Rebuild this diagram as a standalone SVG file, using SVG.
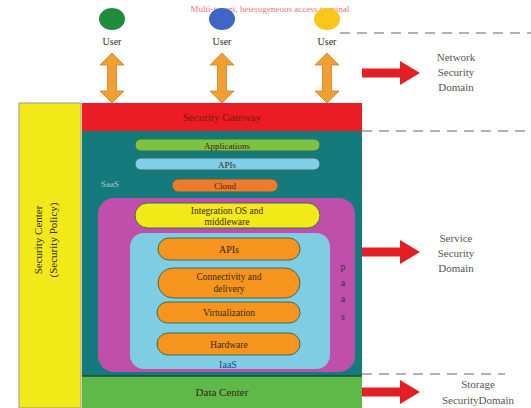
<svg xmlns="http://www.w3.org/2000/svg" width="531" height="408" viewBox="0 0 531 408">
<defs>
<style>
text{font-family:"Liberation Serif","Times New Roman",serif;font-size:10px;text-anchor:middle;fill:#3a2a10}
.lbl{fill:#555;font-size:11px}
.pill{stroke:#3b6d5a;stroke-width:1}
.orange{fill:#f7941d}
.dash{stroke:#666;stroke-width:1.2;stroke-dasharray:10,7;fill:none}
.red{fill:#e31e24}
.uarr{fill:#f0a030;stroke:#c9842a;stroke-width:0.8}
</style>
<g id="uparrow"><path d="M0,-25 L12,-13 L4.5,-13 L4.5,13 L12,13 L0,25 L-12,13 L-4.5,13 L-4.5,-13 L-12,-13 Z"/></g>
<g id="redarrow"><path d="M0,-4.5 L38,-4.5 L38,-12 L58,0 L38,12 L38,4.5 L0,4.5 Z"/></g>
</defs>
<rect width="531" height="408" fill="#ffffff"/>
<text x="270" y="12" style="fill:#e8333a;font-size:9px;opacity:0.7">Multi-tenant, heterogeneous access terminal</text>
<g id="users">
<ellipse cx="112" cy="19" rx="13" ry="11" fill="#1e8c3a"/>
<ellipse cx="222" cy="19" rx="13" ry="11" fill="#3f66c7"/>
<ellipse cx="327" cy="19" rx="13" ry="11" fill="#f7c81a"/>
<text x="112" y="45">User</text>
<text x="222" y="45">User</text>
<text x="327" y="45">User</text>
</g>
<g id="connectors">
<use href="#uparrow" class="uarr" x="112" y="78"/>
<use href="#uparrow" class="uarr" x="222" y="78"/>
<use href="#uparrow" class="uarr" x="327" y="78"/>
<line class="dash" x1="340" y1="33" x2="531" y2="33"/>
<line class="dash" x1="362" y1="131" x2="531" y2="131"/>
<line class="dash" x1="362" y1="374" x2="505" y2="374"/>
<use href="#redarrow" class="red" x="362" y="73"/>
<use href="#redarrow" class="red" x="362" y="252"/>
<use href="#redarrow" class="red" x="362" y="392"/>
</g>
<g id="security-center">
<rect x="19" y="103" width="62" height="305" fill="#f2e918" stroke="#999" stroke-width="1"/>
<text transform="translate(42,240) rotate(-90)" style="font-size:11px">Security Center</text>
<text transform="translate(57,240) rotate(-90)" style="font-size:11px">(Security Policy)</text>
</g>
<g id="gateway">
<rect x="82" y="103" width="280" height="28" fill="#ec1c24"/>
<text x="222" y="121" style="fill:#7a1a10;font-size:11px">Security Gateway</text>
</g>
<g id="saas">
<rect x="82" y="131" width="280" height="245" fill="#157a7c"/>
<text x="110" y="187" style="fill:#9fd0d0;font-size:9px">SaaS</text>
</g>
<g id="applications"><rect class="pill" x="135" y="139" width="185" height="12" rx="6" fill="#7ec242"/><text x="227" y="148.5" style="font-size:9px">Applications</text></g>
<g id="apis-saas"><rect class="pill" x="135" y="158" width="185" height="12" rx="6" fill="#7fcfe6"/><text x="227" y="167.5" style="font-size:9px">APIs</text></g>
<g id="cloud"><rect class="pill" x="172" y="179" width="106" height="13" rx="6.5" fill="#ee7a2c"/><text x="225" y="189" style="font-size:9px">Cloud</text></g>
<g id="paas">
<rect x="98" y="198" width="257" height="174" rx="16" fill="#bf4fab"/>
<text x="343" y="270" style="fill:#333;font-size:10px">p</text>
<text x="343" y="286" style="fill:#333;font-size:10px">a</text>
<text x="343" y="302" style="fill:#333;font-size:10px">a</text>
<text x="343" y="320" style="fill:#333;font-size:10px">s</text>
</g>
<g id="integration"><rect class="pill" x="135" y="203" width="185" height="25" rx="12.5" fill="#f2e918"/><text x="227" y="214" style="font-size:9.5px">Integration OS and</text><text x="227" y="225" style="font-size:9.5px">middleware</text></g>
<g id="iaas">
<rect x="130" y="233" width="200" height="136" rx="14" fill="#7fcde2"/>
<text x="228" y="368" style="fill:#1a4a8a;font-size:10px">IaaS</text>
</g>
<g id="apis-iaas"><rect class="pill orange" x="158" y="238" width="142" height="22" rx="11"/><text x="229" y="252.5">APIs</text></g>
<g id="connectivity"><rect class="pill orange" x="158" y="268" width="142" height="30" rx="15"/><text x="229" y="280" style="font-size:9.5px">Connectivity and</text><text x="229" y="292" style="font-size:9.5px">delivery</text></g>
<g id="virtualization"><rect class="pill orange" x="157" y="302" width="143" height="21" rx="10.5"/><text x="229" y="316" style="font-size:9.5px">Virtualization</text></g>
<g id="hardware"><rect class="pill orange" x="157" y="333" width="143" height="22" rx="11"/><text x="229" y="347.5" style="font-size:9.5px">Hardware</text></g>
<g id="datacenter">
<rect x="82" y="376" width="280" height="32" fill="#5fb948"/>
<line x1="82" y1="376" x2="362" y2="376" stroke="#1d4a3a" stroke-width="1.5"/>
<text x="222" y="396" style="font-size:11px">Data Center</text>
</g>
<g id="domains">
<text class="lbl" x="456" y="61">Network</text>
<text class="lbl" x="456" y="76">Security</text>
<text class="lbl" x="456" y="91">Domain</text>
<text class="lbl" x="456" y="242">Service</text>
<text class="lbl" x="456" y="257">Security</text>
<text class="lbl" x="456" y="272">Domain</text>
<text class="lbl" x="478" y="388">Storage</text>
<text class="lbl" x="478" y="404">SecurityDomain</text>
</g>
</svg>
